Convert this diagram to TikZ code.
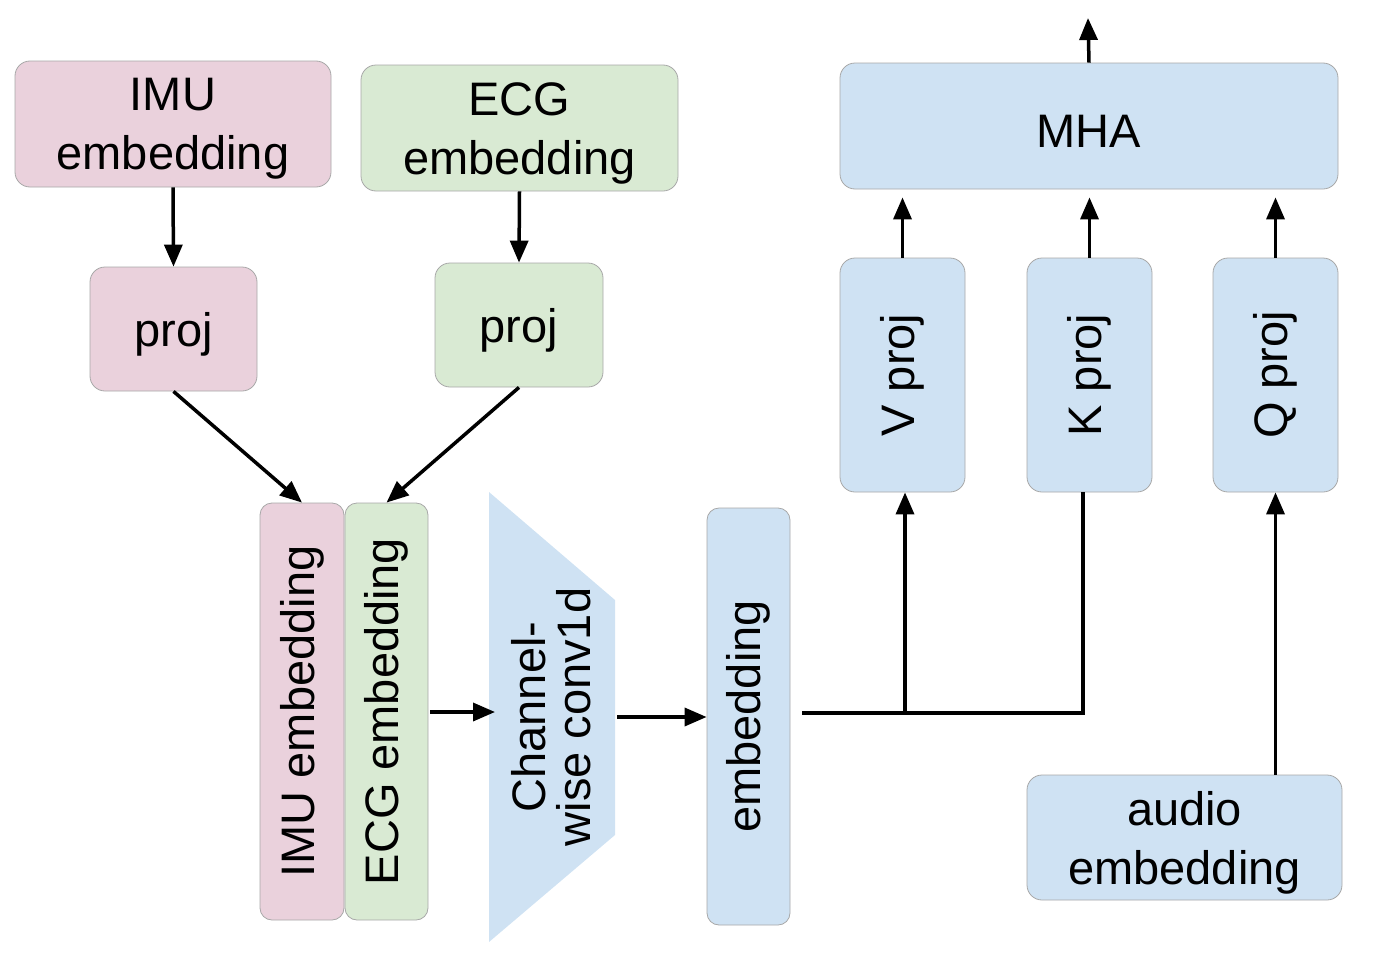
\documentclass[tikz,border=0pt]{standalone}
\usepackage{fontspec}
\setmainfont{Liberation Sans}
\usetikzlibrary{arrows.meta}
\definecolor{pinkf}{HTML}{EAD1DC}
\definecolor{greenf}{HTML}{D9EAD3}
\definecolor{bluef}{HTML}{CFE2F3}
\definecolor{edgec}{HTML}{A8A8A8}
\tikzset{
  box/.style={draw=edgec, line width=0.8pt, rounded corners=15pt, inner sep=0pt, align=center,
    font=\fontsize{47}{59}\selectfont},
  pinkbox/.style={box, fill=pinkf},
  greenbox/.style={box, fill=greenf},
  bluebox/.style={box, fill=bluef},
  txt/.style={label={[font=\fontsize{47}{59}\selectfont, align=center, inner sep=0pt, yshift=-5pt]center:#1}},
  arr/.style={line width=3.5pt, -{Triangle[length=22pt,width=18pt]}},
  plain/.style={line width=3.5pt}
}
\begin{document}
\begin{tikzpicture}[x=1pt,y=-1pt]
\useasboundingbox (0,0) rectangle (1379,953);
% top embeddings
\node[pinkbox, minimum width=316pt, minimum height=126pt, txt={IMU\\embedding}] (imuE) at (173,124) {};
\node[greenbox, minimum width=317pt, minimum height=126pt, txt={ECG\\embedding}] (ecgE) at (519.5,128) {};
\node[pinkbox, minimum width=167pt, minimum height=124pt, txt={proj}] (imuP) at (173.5,329) {};
\node[greenbox, minimum width=168pt, minimum height=124pt, txt={proj}] (ecgP) at (519,325) {};
% tall embeddings
\node[pinkbox, rounded corners=12pt, minimum width=417pt, minimum height=84pt, rotate=90] (imuT) at (302,711.5) {IMU embedding};
\node[greenbox, rounded corners=12pt, minimum width=417pt, minimum height=83pt, rotate=90] (ecgT) at (386.5,711.5) {ECG embedding};
% trapezoid
\coordinate (tA) at (489,492);
\coordinate (tB) at (615,600);
\coordinate (tC) at (615,835);
\coordinate (tD) at (489,942);
\fill[bluef] (tA) -- (tB) -- (tC) -- (tD) -- cycle;
\coordinate (tin) at (489,712);
\coordinate (tout) at (615,717);
\node[align=center, rotate=90, font=\fontsize{47}{45}\selectfont, inner sep=0pt] (conv) at (551,717) {Channel-\\wise conv1d};
% embedding
\node[bluebox, rounded corners=12pt, minimum width=417pt, minimum height=83pt, rotate=90] (emb) at (748.5,716.5) {embedding};
% projections
\node[bluebox, minimum width=234pt, minimum height=125pt, rotate=90] (V) at (902.5,375) {V proj};
\node[bluebox, minimum width=234pt, minimum height=125pt, rotate=90] (K) at (1089.5,375) {K proj};
\node[bluebox, minimum width=234pt, minimum height=125pt, rotate=90] (Q) at (1275.5,375) {Q proj};
\node[bluebox, minimum width=498pt, minimum height=126pt, txt={MHA}] (MHA) at (1089,126) {};
\node[bluebox, minimum width=315pt, minimum height=125pt, txt={audio\\embedding}] (audio) at (1184.5,837.5) {};
\coordinate (out) at (1088,18);
\coordinate (j1) at (905,713);
\coordinate (j2) at (1083,713);
% arrows
\draw[arr] (imuE.south) -- (imuP.north);
\draw[arr] (ecgE.south) -- (ecgP.north);
\draw[arr] (imuP.south) -- (imuT.east);
\draw[arr] (ecgP.south) -- (ecgT.east);
\draw[arr, shorten <=2pt] (ecgT.south |- tin) -- ([xshift=6pt]tin);
\draw[arr, shorten <=2pt] (tout) -- (emb.north |- tout);
\draw[plain, shorten <=12pt] (emb.south |- j1) -- (j2) -- (j2 |- K.west);
\draw[arr] (j1) -- (j1 |- V.west);
\draw[arr] (audio.north -| Q) -- (Q.west);
\draw[arr, shorten >=8pt] (V.east) -- (V.east |- MHA.south);
\draw[arr, shorten >=8pt] (K.east) -- (K.east |- MHA.south);
\draw[arr, shorten >=8pt] (Q.east) -- (Q.east |- MHA.south);
\draw[arr] (MHA.north) -- (out);
\end{tikzpicture}
\end{document}
